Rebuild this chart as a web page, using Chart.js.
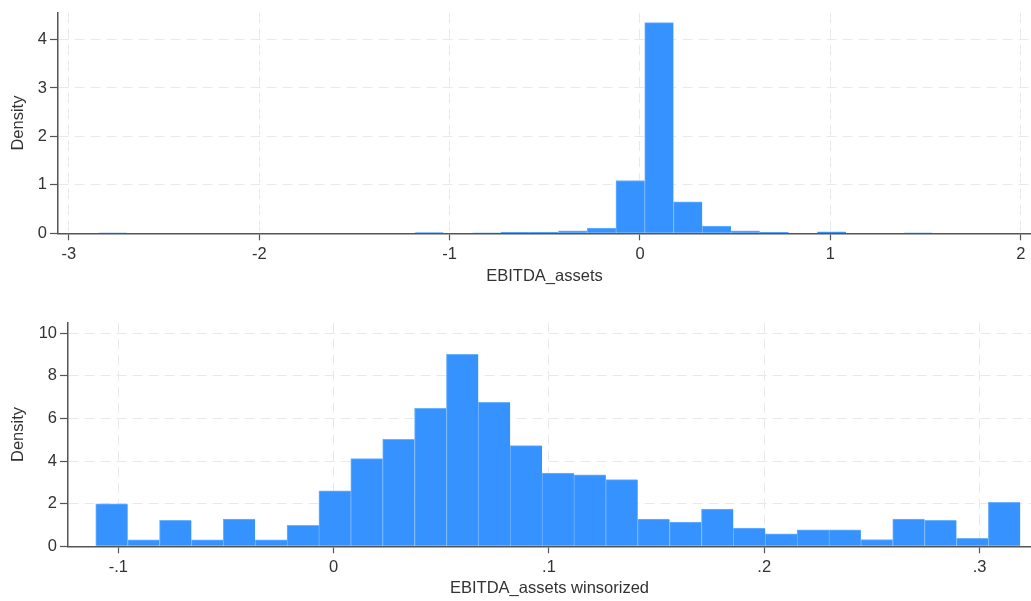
<!DOCTYPE html>
<html>
<head>
<meta charset="utf-8">
<script src="https://cdn.jsdelivr.net/npm/chart.js@4"></script>
<style>
html, body { margin: 0; padding: 0; background: #fff; }
canvas { position: absolute; left: 0; }
#rawChart { top: 0; }
#winChart { top: 300px; }
</style>
</head>
<body>
<canvas id="rawChart" width="1031" height="300"></canvas>
<canvas id="winChart" width="1031" height="301"></canvas>
<script>
// top histogram: EBITDA_assets (29 bins)
const rawMin = -2.846;
const rawWidth = 0.1511;
const rawDensity = [0.01, 0, 0, 0, 0, 0, 0, 0, 0, 0, 0, 0.015, 0, 0.01, 0.02, 0.02, 0.05, 0.11,
    1.09, 4.35, 0.65, 0.15, 0.05, 0.02, 0, 0.03, 0, 0, 0.01];
const rawXTicks = [-3, -2, -1, 0, 1, 2];
const rawXLabels = ['-3', '-2', '-1', '0', '1', '2'];
const rawYTicks = [0, 1, 2, 3, 4];

// bottom histogram: EBITDA_assets winsorized (29 bins)
const winMin = -0.1105;
const winWidth = 0.014807;
const winDensity = [1.99, 0.30, 1.22, 0.30, 1.28, 0.30, 0.99, 2.60, 4.12, 5.02, 6.48, 9.01, 6.76, 4.73,
    3.44, 3.36, 3.13, 1.28, 1.14, 1.75, 0.85, 0.59, 0.77, 0.77, 0.31, 1.28, 1.22, 0.38, 2.07];
const winXTicks = [-0.1, 0, 0.1, 0.2, 0.3];
const winXLabels = ['-.1', '0', '.1', '.2', '.3'];
const winYTicks = [0, 2, 4, 6, 8, 10];

const font = { family: 'Arial, "Liberation Sans", sans-serif', size: 16.5 };
const textColor = '#333';
const axisColor = '#555';
const gridColor = '#e9e9e9';

function histogram(id, min, width, dens, xTicks, xLabels, yTicks, opts) {
    const points = dens.map((d, i) => ({ x: min + width * (i + 0.5), y: d }));
    return new Chart(document.getElementById(id), {
        type: 'bar',
        data: {
            datasets: [{
                data: points,
                backgroundColor: '#3592ff',
                borderColor: '#6eb1ff',
                borderWidth: { top: 1, left: 1, right: 0, bottom: 0 },
                borderSkipped: false,
                barPercentage: 1,
                categoryPercentage: 1,
                grouped: false
            }]
        },
        options: {
            responsive: false,
            animation: false,
            layout: { padding: { top: opts.padTop, right: 0, bottom: 0, left: 0 } },
            plugins: { legend: { display: false }, tooltip: { enabled: false } },
            scales: {
                x: {
                    type: 'linear',
                    offset: false,
                    min: opts.xMin,
                    max: opts.xMax,
                    afterBuildTicks: s => { s.ticks = xTicks.map(v => ({ value: v })); },
                    afterFit: s => { s.height = opts.xHeight; },
                    ticks: {
                        autoSkip: false,
                        maxRotation: 0,
                        padding: 4,
                        color: textColor,
                        font: font,
                        callback: v => xLabels[xTicks.indexOf(v)]
                    },
                    grid: { offset: false, color: gridColor, tickLength: 7, tickColor: axisColor, tickWidth: 1.2 },
                    border: { color: axisColor, width: 1.5, dash: [10, 6] },
                    title: { display: true, text: opts.xTitle, color: textColor, font: font, padding: { top: 0, bottom: opts.titlePad } }
                },
                y: {
                    min: 0,
                    max: opts.yMax,
                    afterBuildTicks: s => { s.ticks = yTicks.map(v => ({ value: v })); },
                    afterFit: s => { s.width = opts.yWidth; },
                    ticks: { padding: 3, color: textColor, font: font },
                    grid: { color: gridColor, tickLength: 8, tickColor: axisColor, tickWidth: 1.2 },
                    border: { color: axisColor, width: 1.5, dash: [10, 6] },
                    title: { display: true, text: 'Density', color: textColor, font: font, padding: { top: 8.4, bottom: 0 } }
                }
            }
        }
    });
}

histogram('rawChart', rawMin, rawWidth, rawDensity, rawXTicks, rawXLabels, rawYTicks, {
    xMin: -3.057, xMax: 2.054, yMax: 4.55, padTop: 10.7, xHeight: 66.7, yWidth: 58,
    titlePad: 13.4, xTitle: 'EBITDA_assets'
});

histogram('winChart', winMin, winWidth, winDensity, winXTicks, winXLabels, winYTicks, {
    xMin: -0.1234, xMax: 0.3239, yMax: 10.5, padTop: 22.7, xHeight: 54.7, yWidth: 68,
    titlePad: 3.1, xTitle: 'EBITDA_assets winsorized'
});
</script>
</body>
</html>
